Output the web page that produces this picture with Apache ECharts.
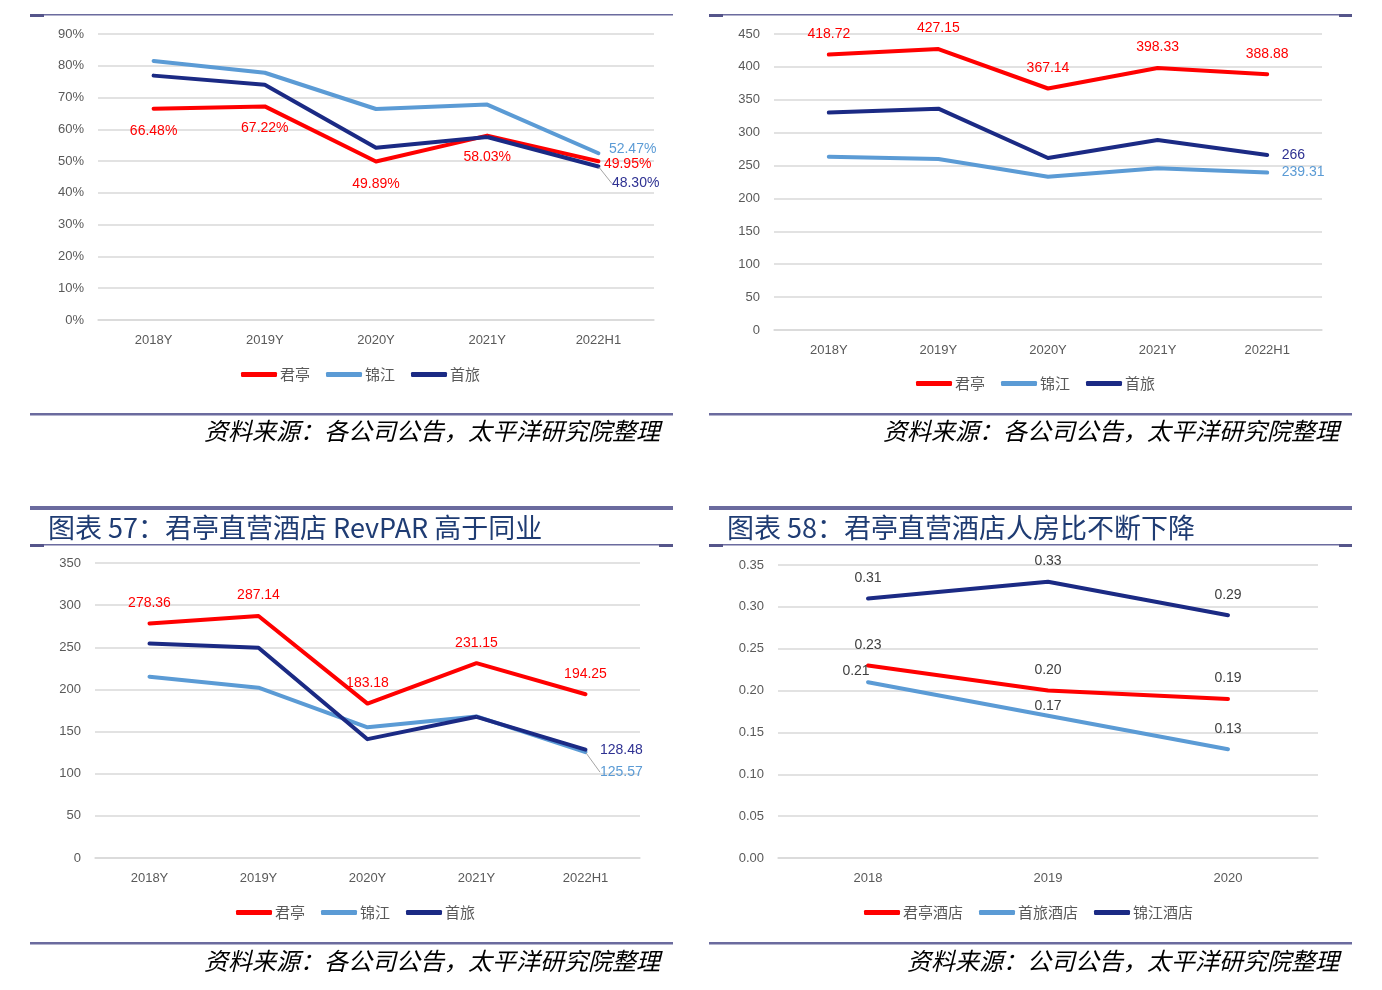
<!DOCTYPE html>
<html>
<head>
<meta charset="utf-8">
<script src="https://cdn.jsdelivr.net/npm/echarts@6/dist/echarts.min.js"></script>
<style>
html,body{margin:0;padding:0;background:#fff;}
#c{width:1382px;height:990px;}
</style>
</head>
<body>
<div id="c"></div>
<script>
// ---------- data ----------
const catsA = ['2018Y', '2019Y', '2020Y', '2021Y', '2022H1'];
const catsB = ['2018', '2019', '2020'];

// Panel 1: occupancy (%)
const occJunting  = [66.48, 67.22, 49.89, 58.03, 49.95];
const occJinjiang = [81.5, 77.8, 66.4, 67.8, 52.47];
const occShoulv   = [76.9, 74.0, 54.2, 57.6, 48.30];

// Panel 2: ADR
const adrJunting  = [418.72, 427.15, 367.14, 398.33, 388.88];
const adrJinjiang = [263.5, 260.0, 233.0, 246.0, 239.31];
const adrShoulv   = [330.5, 336.5, 261.5, 289.0, 266];

// Panel 3: RevPAR
const revJunting  = [278.36, 287.14, 183.18, 231.15, 194.25];
const revJinjiang = [215.0, 202.0, 155.0, 168.0, 125.57];
const revShoulv   = [254.5, 249.5, 141.0, 167.5, 128.48];

// Panel 4: staff-to-room ratio
const ratioJunting  = [0.23, 0.20, 0.19];
const ratioShoulv   = [0.21, 0.17, 0.13];
const ratioJinjiang = [0.31, 0.33, 0.29];

const seriesNamesA = ['君亭', '锦江', '首旅'];
const seriesNamesB = ['君亭酒店', '首旅酒店', '锦江酒店'];

const titleP3 = '图表 57：君亭直营酒店 RevPAR 高于同业';
const titleP4 = '图表 58：君亭直营酒店人房比不断下降';
const sourceA = '资料来源：各公司公告，太平洋研究院整理';
const sourceB = '资料来源：公司公告，太平洋研究院整理';

// ---------- styles ----------
const RED = '#FF0000', LBLUE = '#5B9BD5', NAVY = '#1B2A84';
const NAVY_LABEL = '#2E3192';
const AXIS_TXT = '#595959';
const GRID_CLR = '#D9D9D9';
const FRAME = '#6B6B9E';
const FONT = 'Liberation Sans, Noto Sans CJK SC, sans-serif';
const CJK = 'Noto Sans CJK SC, sans-serif';

const chart = echarts.init(document.getElementById('c'), null, {renderer: 'canvas'});

const grids = [
  {left: 98,  top: 34,  width: 556, height: 286},
  {left: 774, top: 34,  width: 548, height: 296},
  {left: 95,  top: 563, width: 545, height: 295},
  {left: 778, top: 565, width: 540, height: 293}
];

function xAx(gi, cats) {
  return {
    type: 'category', gridIndex: gi, data: cats, boundaryGap: true,
    axisLine: {show: true, lineStyle: {color: GRID_CLR, width: 1.5}},
    axisTick: {show: false},
    axisLabel: {color: AXIS_TXT, fontSize: 13, fontFamily: FONT, margin: 14}
  };
}
function yAx(gi, max, interval, fmt) {
  return {
    type: 'value', gridIndex: gi, min: 0, max: max, interval: interval,
    axisLine: {show: false}, axisTick: {show: false},
    splitLine: {lineStyle: {color: GRID_CLR, width: 1.5}},
    axisLabel: {color: AXIS_TXT, fontSize: 13, fontFamily: FONT, margin: 14, formatter: fmt}
  };
}

function mkSeries(name, vals, color, gi, labelSpec, fmt, leader) {
  const data = vals.map((v, i) => {
    const spec = labelSpec[i];
    if (!spec) return {value: v, label: {show: false}};
    return {
      value: v,
      label: {
        show: true, position: spec.position || 'top', distance: spec.distance == null ? 6 : spec.distance,
        color: spec.color, fontSize: 14, fontFamily: FONT,
        offset: spec.offset || [0, 0], formatter: fmt
      }
    };
  });
  const s = {
    type: 'line', name: name, xAxisIndex: gi, yAxisIndex: gi, data: data,
    symbol: 'circle', symbolSize: 1, showSymbol: true, showAllSymbol: true,
    lineStyle: {color: color, width: 4, cap: 'round', join: 'round'},
    itemStyle: {color: color}, label: {show: false}, animation: false, z: 3
  };
  if (leader) {
    s.labelLayout = function (p) {
      if (p.dataIndex === leader.idx) return {dx: leader.dx, dy: leader.dy};
    };
    s.labelLine = {show: true, smooth: false, lineStyle: {color: '#A6A6A6', width: 1}};
  }
  return s;
}

const pct = p => p.value.toFixed(2) + '%';
const plain = p => String(p.value);
const two = p => p.value.toFixed(2);

const series = [
  // Panel 1
  mkSeries(seriesNamesA[0], occJunting, RED, 0, {
    0: {position: 'bottom', distance: 15, color: RED},
    1: {position: 'bottom', distance: 14, color: RED},
    2: {position: 'bottom', distance: 15, color: RED},
    3: {position: 'bottom', distance: 14, color: RED},
    4: {position: 'right', distance: 5, color: RED, offset: [0, 3]}
  }, pct),
  mkSeries(seriesNamesA[1], occJinjiang, LBLUE, 0, {
    4: {position: 'right', distance: 10, color: LBLUE, offset: [0, -4]}
  }, pct),
  mkSeries(seriesNamesA[2], occShoulv, NAVY, 0, {
    4: {position: 'right', distance: 13, color: NAVY_LABEL}
  }, pct, {idx: 4, dx: 0, dy: 17}),
  // Panel 2
  mkSeries(seriesNamesA[0], adrJunting, RED, 1, {
    0: {color: RED, distance: 13}, 1: {color: RED, distance: 13}, 2: {color: RED, distance: 13},
    3: {color: RED, distance: 13}, 4: {color: RED, distance: 13}
  }, plain),
  mkSeries(seriesNamesA[1], adrJinjiang, LBLUE, 1, {
    4: {position: 'right', distance: 14, color: LBLUE}
  }, plain),
  mkSeries(seriesNamesA[2], adrShoulv, NAVY, 1, {
    4: {position: 'right', distance: 14, color: NAVY_LABEL}
  }, plain),
  // Panel 3
  mkSeries(seriesNamesA[0], revJunting, RED, 2, {
    0: {color: RED, distance: 13}, 1: {color: RED, distance: 13}, 2: {color: RED, distance: 13},
    3: {color: RED, distance: 13}, 4: {color: RED, distance: 13}
  }, plain),
  mkSeries(seriesNamesA[1], revJinjiang, LBLUE, 2, {
    4: {position: 'right', distance: 14, color: LBLUE}
  }, plain, {idx: 4, dx: 0, dy: 20}),
  mkSeries(seriesNamesA[2], revShoulv, NAVY, 2, {
    4: {position: 'right', distance: 14, color: NAVY_LABEL}
  }, plain),
  // Panel 4
  mkSeries(seriesNamesB[0], ratioJunting, RED, 3, {
    0: {color: '#404040', distance: 13}, 1: {color: '#404040', distance: 13}, 2: {color: '#404040', distance: 13}
  }, two),
  mkSeries(seriesNamesB[1], ratioShoulv, LBLUE, 3, {
    0: {color: '#404040', distance: 4, offset: [-12, 0]}, 1: {color: '#404040', distance: 2},
    2: {color: '#404040', distance: 13}
  }, two),
  mkSeries(seriesNamesB[2], ratioJinjiang, NAVY, 3, {
    0: {color: '#404040', distance: 13}, 1: {color: '#404040', distance: 13}, 2: {color: '#404040', distance: 13}
  }, two)
];

function legend(left, top, names) {
  return {
    left: left, top: top, data: names, icon: 'roundRect',
    itemWidth: 36, itemHeight: 5, itemGap: 16, padding: 0,
    selectedMode: false,
    textStyle: {color: AXIS_TXT, fontSize: 15, fontFamily: CJK, padding: [0, 0, 0, -2]}
  };
}

function hline(x, y, w, h, color) {
  return {type: 'rect', shape: {x: x, y: y, width: w, height: h}, style: {fill: color}, silent: true};
}
function txt(x, y, text, opts) {
  return {
    type: 'text', x: x, y: y, silent: true,
    style: Object.assign({text: text, textVerticalAlign: 'middle', verticalAlign: 'middle'}, opts)
  };
}

const srcStyle = (x) => ({fill: '#000', fontSize: 24, fontStyle: 'italic', fontFamily: CJK, textAlign: 'right', align: 'right'});

const graphics = [
  hline(30, 14, 643, 1.5, FRAME), hline(30, 14, 14, 3, '#55558A'),
  hline(709, 14, 643, 1.5, FRAME), hline(709, 14, 14, 3, '#55558A'), hline(1339, 14, 13, 3, '#55558A'),
  hline(30, 413, 643, 2.5, FRAME), hline(709, 413, 643, 2.5, FRAME),
  hline(30, 506, 643, 4, FRAME), hline(709, 506, 643, 4, FRAME),
  hline(30, 544, 643, 1.5, FRAME), hline(30, 544, 14, 3, '#55558A'), hline(659, 544, 14, 3, '#55558A'),
  hline(709, 544, 643, 1.5, FRAME), hline(709, 544, 14, 3, '#55558A'), hline(1339, 544, 13, 3, '#55558A'),
  hline(30, 942, 643, 2.5, FRAME), hline(709, 942, 643, 2.5, FRAME),
  txt(48, 528, titleP3, {fill: '#1F3C73', fontSize: 27, fontFamily: CJK, textAlign: 'left', align: 'left'}),
  txt(727, 528, titleP4, {fill: '#1F3C73', fontSize: 27, fontFamily: CJK, textAlign: 'left', align: 'left'}),
  txt(660, 431, sourceA, srcStyle()),
  txt(1339, 431, sourceA, srcStyle()),
  txt(660, 961, sourceA, srcStyle()),
  txt(1339, 961, sourceB, srcStyle())
];

chart.setOption({
  backgroundColor: '#fff',
  animation: false,
  grid: grids,
  xAxis: [xAx(0, catsA), xAx(1, catsA), xAx(2, catsA), xAx(3, catsB)],
  yAxis: [
    yAx(0, 90, 10, '{value}%'),
    yAx(1, 450, 50, '{value}'),
    yAx(2, 350, 50, '{value}'),
    yAx(3, 0.35, 0.05, v => v.toFixed(2))
  ],
  legend: [
    legend(241, 367, seriesNamesA),
    legend(916, 376, seriesNamesA),
    legend(236, 905, seriesNamesA),
    legend(864, 905, seriesNamesB)
  ],
  series: series,
  graphic: graphics
});
</script>
</body>
</html>
